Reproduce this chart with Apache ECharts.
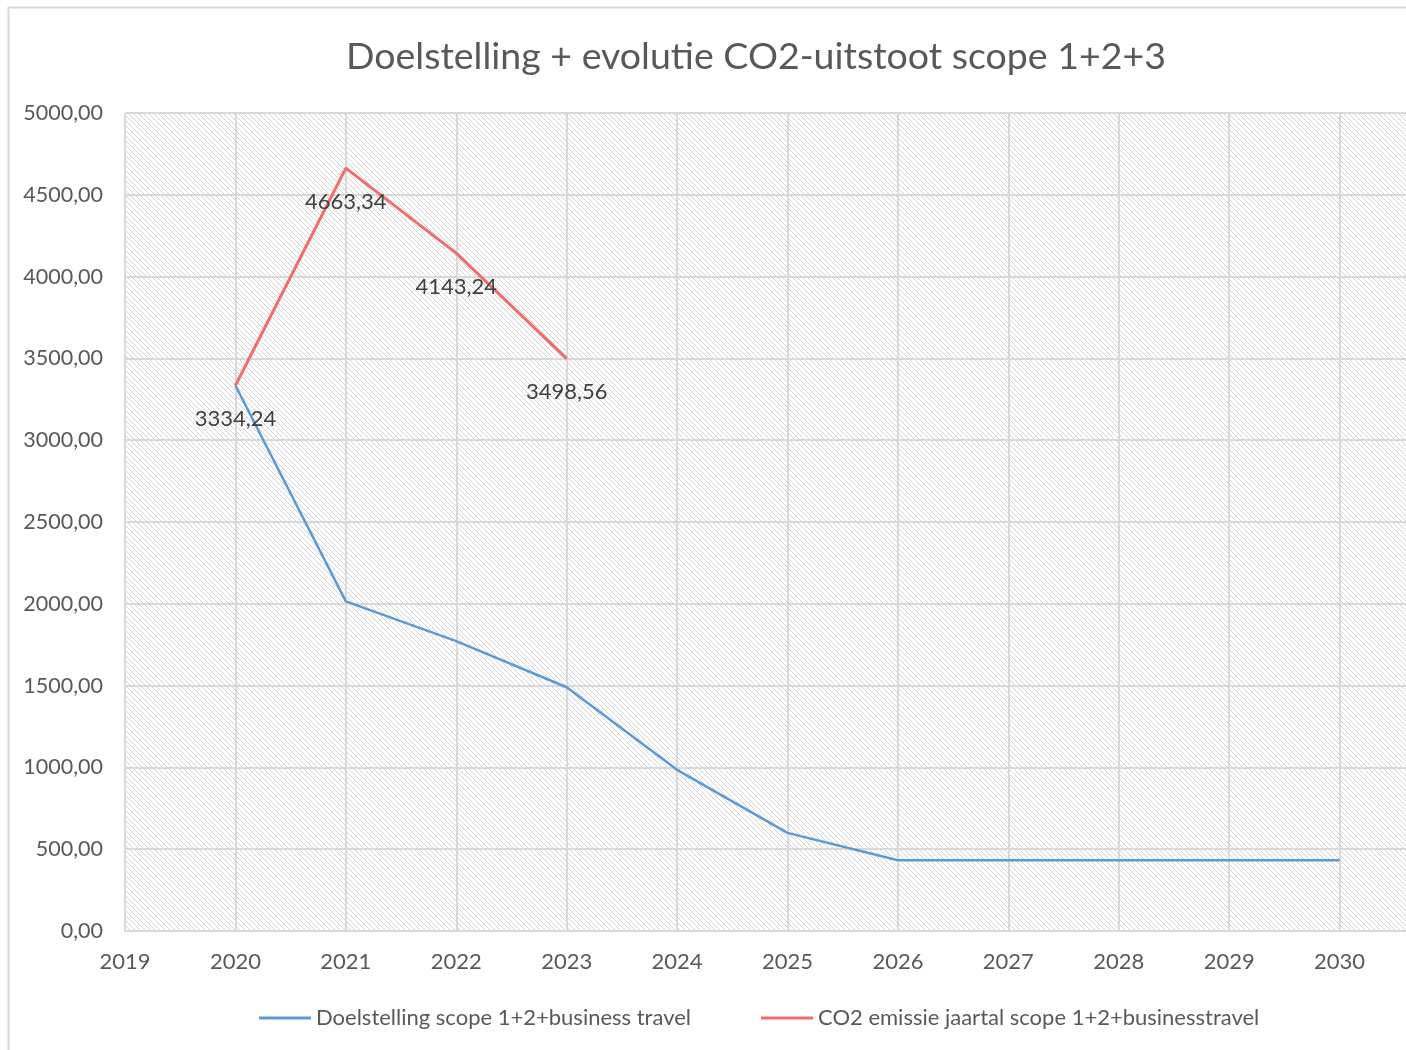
<!DOCTYPE html>
<html>
<head>
<meta charset="utf-8">
<script src="https://cdn.jsdelivr.net/npm/echarts@6/dist/echarts.min.js"></script>
<style>
html,body{margin:0;padding:0;background:#fff;}
#chart{width:1406px;height:1050px;}
</style>
</head>
<body>
<div id="chart"></div>
<script>
const titleText = 'Doelstelling + evolutie CO2-uitstoot scope 1+2+3';
const targetName = 'Doelstelling scope 1+2+business travel';
const actualName = 'CO2 emissie jaartal scope 1+2+businesstravel';
const targetYears = [2020, 2021, 2022, 2023, 2024, 2025, 2026, 2027, 2028, 2029, 2030];
const targetValues = [3334.24, 2015, 1772, 1490, 985, 600, 432, 432, 432, 432, 432];
const actualYears = [2020, 2021, 2022, 2023];
const actualValues = [3334.24, 4663.34, 4143.24, 3498.56];
const xMin = 2019, xMax = 2031;
const yMin = 0, yMax = 5000, yStep = 500;

function hatch() {
  const c = document.createElement('canvas');
  c.width = 5; c.height = 5;
  const g = c.getContext('2d');
  g.fillStyle = '#ffffff';
  g.fillRect(0, 0, 5, 5);
  g.strokeStyle = '#d4d4d4';
  g.lineWidth = 1;
  g.beginPath();
  for (let k = -5; k <= 5; k += 5) {
    g.moveTo(k - 1, -1);
    g.lineTo(k + 6, 6);
  }
  g.stroke();
  return c;
}
const fmt = v => Number(v).toFixed(2).replace('.', ',');
const FONT = 'Lato';
const RED = '#f36b6b';
const BLUE = '#5b9bd5';
const chart = echarts.init(document.getElementById('chart'));
chart.setOption({
  backgroundColor: '#ffffff',
  animation: false,
  graphic: [{
    type: 'rect', shape: {x: 8.5, y: 7.5, width: 1500, height: 1100},
    style: {fill: 'none', stroke: '#d9d9d9', lineWidth: 2}, z: -10
  }],
  title: {
    text: titleText, left: 341, top: 33,
    textStyle: {fontFamily: FONT, fontSize: 37.5, fontWeight: 'normal', color: '#595959'}
  },
  legend: {
    bottom: 16, left: 254, itemWidth: 52, itemHeight: 3, itemGap: 70, icon: 'rect',
    textStyle: {fontFamily: FONT, fontSize: 22, color: '#595959'},
    data: [
      {name: targetName, itemStyle: {color: BLUE}},
      {name: actualName, itemStyle: {color: RED}}
    ]
  },
  grid: {
    left: 125, top: 113, bottom: 119, right: -44, show: true, containLabel: false,
    outerBoundsMode: 'none',
    backgroundColor: {image: hatch(), repeat: 'repeat'}, borderWidth: 0
  },
  xAxis: {
    type: 'value', min: xMin, max: xMax, interval: 1,
    axisLine: {show: true, lineStyle: {color: '#d9d9d9', width: 2}},
    axisTick: {show: false},
    splitLine: {show: true, lineStyle: {color: '#d9d9d9', width: 2}},
    axisLabel: {margin: 20, fontFamily: FONT, fontSize: 22, color: '#595959', formatter: v => String(v)}
  },
  yAxis: {
    type: 'value', min: yMin, max: yMax, interval: yStep,
    axisLine: {show: false}, axisTick: {show: false},
    splitLine: {show: true, lineStyle: {color: '#d9d9d9', width: 2}},
    axisLabel: {margin: 22, fontFamily: FONT, fontSize: 21.5, color: '#595959', formatter: fmt}
  },
  series: [{
    name: targetName, type: 'line', symbol: 'none', z: 2,
    lineStyle: {color: BLUE, width: 2.5}, itemStyle: {color: BLUE},
    data: targetYears.map((y, i) => [y, targetValues[i]])
  }, {
    name: actualName, type: 'line', symbol: 'circle', symbolSize: 1, showSymbol: true, z: 3,
    lineStyle: {color: RED, width: 3}, itemStyle: {color: RED},
    label: {show: true, position: 'bottom', distance: 22, fontFamily: FONT, fontSize: 22, color: '#404040',
      formatter: p => fmt(p.value[1])},
    data: actualYears.map((y, i) => [y, actualValues[i]])
  }]
});
</script>
</body>
</html>
